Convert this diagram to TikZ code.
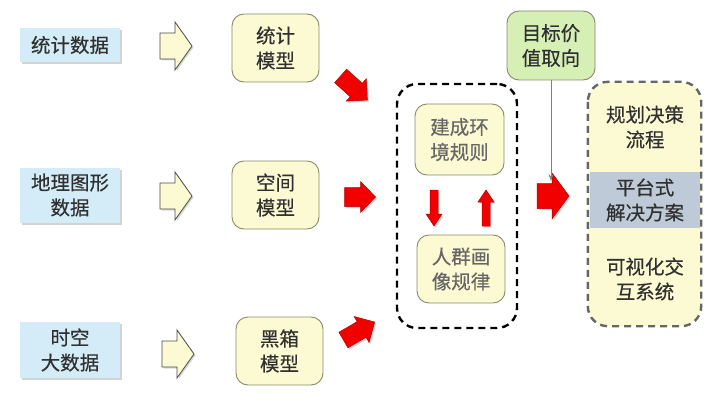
\documentclass[tikz,border=0pt]{standalone}
\usepackage{fontspec}
\newfontfamily\cjk[FakeBold=0.4]{Noto Sans CJK SC}
\usetikzlibrary{shadows,arrows.meta}
\definecolor{bluefill}{HTML}{D4ECF8}
\definecolor{yelfill}{HTML}{FCFAD2}
\definecolor{yelline}{HTML}{8A8A6A}
\definecolor{greenfill}{HTML}{D6EFB4}
\definecolor{bandfill}{HTML}{BFCAD8}
\definecolor{txt}{HTML}{303030}
\definecolor{redfill}{HTML}{F20000}
\definecolor{redline}{HTML}{B00000}
\begin{document}
\begin{tikzpicture}[x=1pt,y=-1pt,
  every node/.style={font=\cjk\fontsize{19.5}{25}\selectfont, text=txt, align=center},
  bluebox/.style={fill=bluefill, draw=none, minimum width=100pt,
    drop shadow={shadow xshift=2pt, shadow yshift=-2pt, opacity=0.35}},
  yelbox/.style={fill=yelfill, draw=yelline, line width=0.9pt, rounded corners=12pt,
    minimum width=87pt, minimum height=68pt},
  greenbox/.style={fill=greenfill, draw=yelline!80!gray, line width=0.9pt, rounded corners=12pt,
    minimum width=88pt, minimum height=69pt},
  dashbox/.style={draw=black, line width=2.4pt, dash pattern=on 7pt off 5pt, rounded corners=20pt},
  graydash/.style={draw=black!60, line width=2.4pt, dash pattern=on 7pt off 5pt, rounded corners=20pt},
  pics/harrow/.style={code={
    \filldraw[fill=yelfill, draw=black!70, line width=0.8pt,
      drop shadow={shadow xshift=1.5pt, shadow yshift=-1.5pt, opacity=0.3}]
      (0,-13) -- (15,-13) -- (15,-24) -- (32,0) -- (15,24) -- (15,13) -- (0,13) -- cycle;}},
  pics/rarrow/.style n args={4}{code={
    \filldraw[fill=redfill, draw=redline, line width=0.5pt,
      drop shadow={shadow xshift=1.5pt, shadow yshift=-1.5pt, opacity=0.35}]
      ({-#3/2},-#1) -- ({#3/2-#4},-#1) -- ({#3/2-#4},-#2) -- ({#3/2},0) --
      ({#3/2-#4},#2) -- ({#3/2-#4},#1) -- ({-#3/2},#1) -- cycle;}}
]
\useasboundingbox (0,0) rectangle (714,401);

% input data boxes
\node[bluebox, minimum height=34pt] (b1) at (70,45) {统计数据};
\node[bluebox, minimum height=55pt] (b2) at (70,195) {地理图形\\数据};
\node[bluebox, minimum height=56pt] (b3) at (70,350) {时空\\大数据};

% hollow arrows
\pic (h1) at (160,46) {harrow};
\pic (h2) at (160,196) {harrow};
\pic (h3) at (162,354) {harrow};

% models
\node[yelbox] (m1) at (275.5,48) {统计\\模型};
\node[yelbox] (m2) at (275.5,195) {空间\\模型};
\node[yelbox] (m3) at (279.5,351) {黑箱\\模型};

% red arrows to middle
\pic[rotate=-42] (r1) at (354,88) {rarrow={9}{15}{36}{15}};
\pic (r2) at (360,197) {rarrow={9.5}{15.5}{31}{15}};
\pic[rotate=30] (r3) at (359,331) {rarrow={9}{15}{36}{15}};

% middle dashed group
\node[dashbox, minimum width=120pt, minimum height=244pt] (grp) at (457,206) {};
\node[yelbox, minimum width=89pt, minimum height=71pt, text=black!60] (e1) at (459.5,139.5) {建成环\\境规则};
\node[yelbox, minimum width=88pt, minimum height=68pt, text=black!60] (e2) at (461,269) {人群画\\像规律};
\pic[rotate=-90] (dn) at (434,208) {rarrow={4}{8}{36}{12}};
\pic[rotate=90] (up) at (486,208) {rarrow={4}{8}{36}{12}};

% goal box
\node[greenbox] (g) at (551,45.5) {目标价\\值取向};

% big red arrow
\pic (rb) at (553,196) {rarrow={12.5}{23}{32}{17}};
\coordinate (gtip) at (551,181);
\draw[black!50, line width=0.9pt, -{Stealth[length=7pt,width=5pt]}] (g.south) -- (gtip);

% right group
\node[fill=yelfill, draw=none, rounded corners=20pt, minimum width=113pt, minimum height=244pt] (out) at (644.5,204) {};
\fill[bandfill] (589.5,172) rectangle (699.5,228);
\node (o1) at (645,127) {规划决策\\流程};
\node (o2) at (645,200) {平台式\\解决方案};
\node (o3) at (645,279) {可视化交\\互系统};
\draw[graydash] (out.north west) rectangle (out.south east);
\end{tikzpicture}
\end{document}
